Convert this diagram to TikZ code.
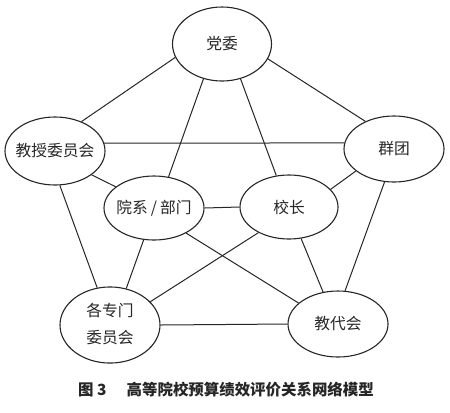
\documentclass[tikz,border=0pt]{standalone}
\usepackage{fontspec}
\setmainfont{Noto Sans CJK SC}
\usetikzlibrary{shapes.geometric}
\begin{document}
\begin{tikzpicture}[x=1bp,y=-1bp,
  every node/.style={font=\fontsize{15.8}{18}\selectfont, text=black!85},
  ell/.style={draw=black!85, ellipse, line width=1.1bp, inner sep=0pt},
  conn/.style={draw=black!85, line width=1bp}]
\fill[white] (0,0) rectangle (450,412);
\useasboundingbox (0,0) rectangle (450,412);
% nodes
\node[ell, minimum width=99bp, minimum height=74bp] (DW) at (222,44) {\makebox[0pt]{党委}};
\node[ell, minimum width=100bp, minimum height=68bp] (JS) at (55,151) {\makebox[0pt]{教授委员会}};
\node[ell, minimum width=100bp, minimum height=66bp] (QT) at (394,149) {\makebox[0pt]{群团}};
\node[ell, minimum width=100bp, minimum height=64bp] (YX) at (154,208) {\makebox[0pt]{院系\hspace{0.2em}/\hspace{0.2em}部门}};
\node[ell, minimum width=98bp, minimum height=64bp] (XZ) at (289,207) {\makebox[0pt]{校长}};
\node[ell, minimum width=100bp, minimum height=66bp] (GZ) at (110,325) {\makebox[0pt]{\fontsize{15.8}{27}\selectfont\begin{tabular}{@{}c@{}}各专门\\委员会\end{tabular}}};
\node[ell, minimum width=100bp, minimum height=66bp] (JD) at (338,324) {\makebox[0pt]{教代会}};
% connectors
\draw[conn] (DW.196.5) -- (JS.48.9);
\draw[conn] (DW.342) -- (QT.136.9);
\draw[conn] (DW.242.6) -- (YX.65);
\draw[conn] (DW.298) -- (XZ.112);
\draw[conn] (JS.9.3) -- (QT.173);
\draw[conn] (JS.327.4) -- (YX.151.6);
\draw[conn] (JS.278) -- (GZ.109.4);
\draw[conn] (QT.210.3) -- (XZ.23.8);
\draw[conn] (QT.254.7) -- (JD.78.7);
\draw[conn] (YX.east) -- (XZ.west);
\draw[conn] (YX.252.5) -- (GZ.66.2);
\draw[conn] (YX.322.6) -- (JD.152.3);
\draw[conn] (XZ.220.2) -- (GZ.30.1);
\draw[conn] (XZ.291) -- (JD.115.9);
\draw[conn] (GZ.east) -- (JD.west);
% caption
\node[font=\fontsize{15.5}{18}\selectfont\bfseries] (cap) at (226,390) {图 3\hspace{1.3em}高等院校预算绩效评价关系网络模型};
\end{tikzpicture}
\end{document}
